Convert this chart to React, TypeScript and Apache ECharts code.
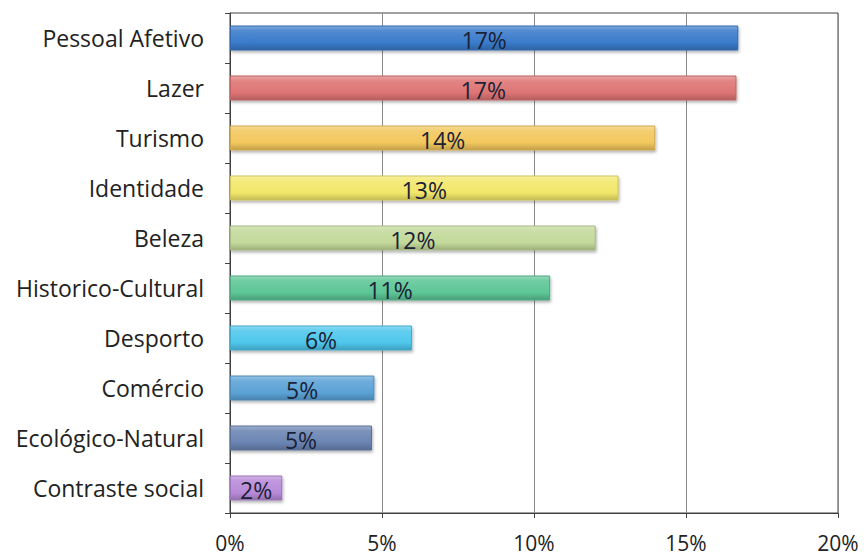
import React, { useEffect, useRef } from "react";
import * as echarts from "echarts";

const categories = [
  "Pessoal Afetivo",
  "Lazer",
  "Turismo",
  "Identidade",
  "Beleza",
  "Historico-Cultural",
  "Desporto",
  "Comércio",
  "Ecológico-Natural",
  "Contraste social",
];
const values = [16.72, 16.66, 13.99, 12.78, 12.03, 10.53, 5.99, 4.75, 4.67, 1.72];
const barColors = [
  "#3a7bcb",
  "#de7474",
  "#f2c75c",
  "#f2e76a",
  "#c3d99a",
  "#5cc696",
  "#4ec7ec",
  "#5ba2d6",
  "#6a84b2",
  "#b88ad8",
];
const xTicks = [0, 5, 10, 15, 20];

function mix(hex: string, target: number, t: number): string {
  const n = parseInt(hex.slice(1), 16);
  const r = (n >> 16) & 255, g = (n >> 8) & 255, b = n & 255;
  const f = (c: number) => Math.round(c + (target - c) * t);
  return `rgb(${f(r)},${f(g)},${f(b)})`;
}

export default function App() {
  const ref = useRef<HTMLDivElement>(null);
  useEffect(() => {
    if (!ref.current) return;
    const chart = echarts.init(ref.current, undefined, { renderer: "svg" });
    const font = "'Open Sans', Lato, sans-serif";
    chart.setOption({
      animation: false,
      backgroundColor: "#ffffff",
      grid: {
        left: 230,
        right: 26,
        top: 13,
        bottom: 45,
        show: true,
        borderColor: "#404040",
        borderWidth: 1,
      },
      xAxis: {
        type: "value",
        min: 0,
        max: 20,
        interval: 5,
        axisLine: { show: true, lineStyle: { color: "#404040" } },
        axisTick: { show: true, length: 5, lineStyle: { color: "#404040" } },
        axisLabel: {
          formatter: (v: number) => (xTicks.includes(v) ? `${v}%` : ""),
          fontFamily: font,
          fontSize: 21,
          color: "#222",
          margin: 19,
        },
        splitLine: { show: true, lineStyle: { color: "#8a8a8a", width: 1 } },
      },
      yAxis: {
        type: "category",
        inverse: true,
        data: categories,
        axisLine: { show: true, lineStyle: { color: "#404040" } },
        axisTick: { show: true, length: 5, lineStyle: { color: "#404040" } },
        axisLabel: {
          fontFamily: font,
          fontSize: 23,
          color: "#222",
          margin: 26,
        },
      },
      series: [
        {
          type: "bar",
          barWidth: "50%",
          data: values.map((v, i) => ({
            value: v,
            itemStyle: {
              color: new echarts.graphic.LinearGradient(0, 0, 0, 1, [
                { offset: 0, color: mix(barColors[i], 255, 0.35) },
                { offset: 0.2, color: mix(barColors[i], 255, 0.12) },
                { offset: 0.7, color: barColors[i] },
                { offset: 1, color: mix(barColors[i], 0, 0.2) },
              ]),
              borderColor: mix(barColors[i], 0, 0.15),
              borderWidth: 1,
              shadowColor: "rgba(0,0,0,0.3)",
              shadowBlur: 3,
              shadowOffsetX: 1,
              shadowOffsetY: 2,
            },
          })),
          label: {
            show: true,
            position: "inside",
            formatter: (p: any) => `${Math.round(p.value)}%`,
            fontFamily: font,
            fontSize: 23,
            color: "#1a2236",
            offset: [0, 2],
          },
        },
      ],
    });
    return () => chart.dispose();
  }, []);
  return (
    <div
      ref={ref}
      style={{ position: "fixed", left: 0, top: 0, width: 864, height: 558 }}
    />
  );
}
